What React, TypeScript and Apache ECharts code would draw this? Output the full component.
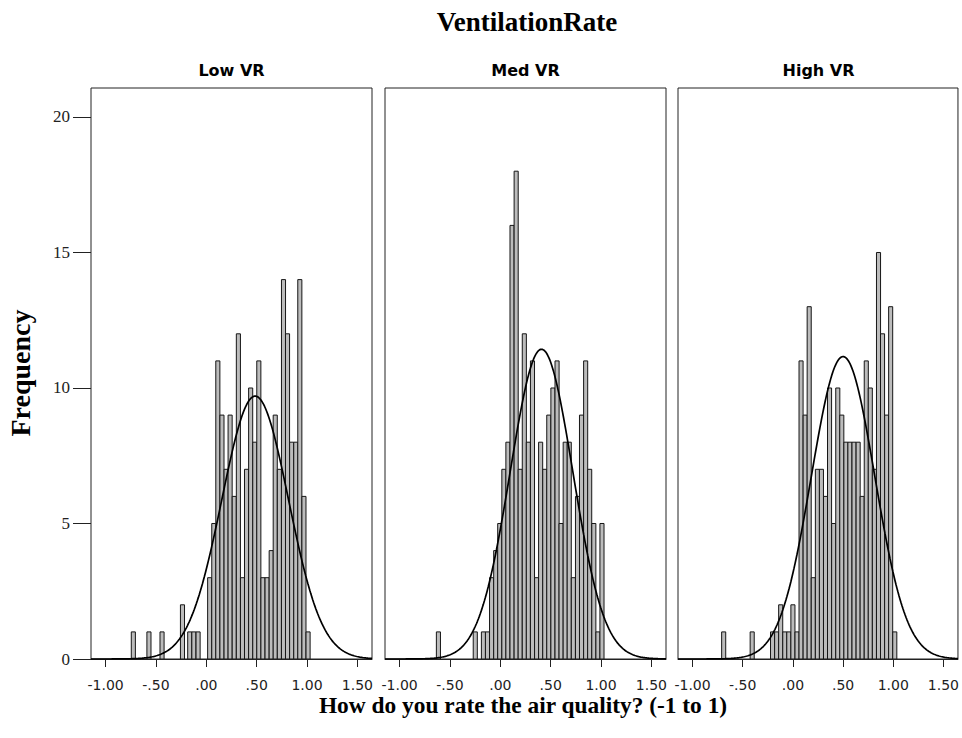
import React, { useEffect, useRef } from "react";
import * as echarts from "echarts";

// ---- data ----
const panelNames = ["Low VR", "Med VR", "High VR"];
const binWidth = 0.0406;

// bin left edges (data units) and frequencies
const lowX = [-0.745, -0.59, -0.46, -0.257, -0.185, -0.144, -0.102,
  0.013, 0.054, 0.094, 0.135, 0.176, 0.216, 0.257, 0.298, 0.339, 0.379, 0.42, 0.461, 0.501,
  0.542, 0.583, 0.624, 0.664, 0.705, 0.746, 0.786, 0.827, 0.868, 0.908, 0.949, 0.99];
const lowCount = [1, 1, 1, 2, 1, 1, 1,
  3, 5, 11, 9, 7, 9, 6, 12, 3, 7, 10, 8, 11, 3, 3, 4, 9, 7, 14, 12, 8, 8, 14, 6, 1];

const medX = [-0.635, -0.269, -0.188, -0.148,
  -0.107, -0.066, -0.026, 0.015, 0.055, 0.096, 0.137, 0.177, 0.218, 0.258, 0.299, 0.34, 0.38, 0.421,
  0.461, 0.502, 0.543, 0.583, 0.624, 0.664, 0.705, 0.746, 0.786, 0.827, 0.867, 0.908, 0.949, 0.989];
const medCount = [1, 1, 1, 1,
  3, 4, 5, 7, 8, 16, 18, 7, 12, 8, 11, 3, 8, 7, 9, 10, 11, 5, 8, 8, 3, 6, 9, 11, 7, 5, 1, 5];

const highX = [-0.71, -0.426,
  -0.223, -0.182, -0.142, -0.101, -0.061, -0.02, 0.021, 0.061, 0.102, 0.142, 0.183, 0.224, 0.264,
  0.305, 0.345, 0.386, 0.427, 0.467, 0.508, 0.548, 0.589, 0.63, 0.67, 0.711, 0.751, 0.792, 0.833,
  0.873, 0.914, 0.954, 0.995];
const highCount = [1, 1,
  1, 1, 2, 1, 1, 2, 1, 11, 9, 13, 3, 7, 7, 6, 10, 5, 10, 9, 8, 8, 8, 8, 6, 11, 10, 7, 15, 12, 9, 13, 1];

// fitted normal curves (mean, sd, peak frequency)
const curveMean = [0.485, 0.409, 0.5];
const curveSd = [0.331, 0.31, 0.315];
const curvePeak = [9.7, 11.43, 11.16];

const xTicks = [-1, -0.5, 0, 0.5, 1, 1.5];
const yTicks = [0, 5, 10, 15, 20];

const panelX = [lowX, medX, highX];
const panelCount = [lowCount, medCount, highCount];

// ---- layout ----
const X_MIN = -1.145;
const X_MAX = 1.645;
const Y_MAX = 21.07;
const GRID_LEFT = [91, 385, 678];
const GRID_W = 281;
const GRID_TOP = 88;
const GRID_H = 571;

function fmtX(v: number) {
  const s = Math.abs(v).toFixed(2);
  const t = s.startsWith("0") ? s.slice(1) : s;
  return (v < 0 ? "-" : "") + t;
}

function normalCurve(i: number) {
  const pts: number[][] = [];
  const m = curveMean[i], sd = curveSd[i], pk = curvePeak[i];
  for (let k = 0; k <= 280; k++) {
    const x = X_MIN + ((X_MAX - X_MIN) * k) / 280;
    pts.push([x, pk * Math.exp(-((x - m) * (x - m)) / (2 * sd * sd))]);
  }
  return pts;
}

export default function App() {
  const ref = useRef<HTMLDivElement>(null);
  useEffect(() => {
    if (!ref.current) return;
    const chart = echarts.init(ref.current, null, { renderer: "svg" });

    const grids = GRID_LEFT.map((l) => ({
      left: l,
      top: GRID_TOP,
      width: GRID_W,
      height: GRID_H,
      show: true,
      borderColor: "#222",
      borderWidth: 1,
      backgroundColor: "#fff",
      containLabel: false,
    }));

    const xAxes = GRID_LEFT.map((_, i) => ({
      type: "value",
      gridIndex: i,
      min: X_MIN,
      max: X_MAX,
      axisLine: { show: true, onZero: false, lineStyle: { color: "#222", width: 1 } },
      axisTick: { show: true, customValues: xTicks, length: 8, lineStyle: { color: "#222", width: 1 } },
      axisLabel: {
        show: true,
        customValues: xTicks,
        formatter: (v: number) => fmtX(v),
        margin: 19,
        fontFamily: "DejaVu Sans",
        fontSize: 14,
        color: "#222",
      },
      splitLine: { show: false },
    }));

    const yAxes = GRID_LEFT.map((_, i) => ({
      type: "value",
      gridIndex: i,
      position: "left",
      min: 0,
      max: Y_MAX,
      axisLine: { show: false, onZero: false },
      axisTick: { show: i === 0, customValues: yTicks, length: 18, lineStyle: { color: "#222", width: 1 } },
      axisLabel: {
        show: i === 0,
        customValues: yTicks,
        margin: 21,
        fontFamily: "Liberation Serif",
        fontSize: 17,
        color: "#222",
      },
      splitLine: { show: false },
    }));

    const series: any[] = [];
    panelX.forEach((xs, i) => {
      series.push({
        type: "custom",
        xAxisIndex: i,
        yAxisIndex: i,
        clip: true,
        z: 2,
        data: xs.map((x, j) => [x, panelCount[i][j]]),
        renderItem: (_p: any, api: any) => {
          const x0 = api.value(0);
          const h = api.value(1);
          const a = api.coord([x0, 0]);
          const b = api.coord([x0 + binWidth, h]);
          return {
            type: "rect",
            shape: { x: a[0], y: b[1], width: b[0] - a[0], height: a[1] - b[1] },
            style: { fill: "#bcbcbc", stroke: "#161616", lineWidth: 1 },
          };
        },
      });
      series.push({
        type: "line",
        xAxisIndex: i,
        yAxisIndex: i,
        data: normalCurve(i),
        symbol: "none",
        showSymbol: false,
        smooth: false,
        z: 3,
        lineStyle: { color: "#000", width: 1.7 },
      });
    });

    const panelLabels = GRID_LEFT.map((l, i) => ({
      type: "text",
      x: l + GRID_W / 2,
      y: 70,
      style: {
        text: panelNames[i],
        fontFamily: "DejaVu Sans",
        fontWeight: "bold",
        fontSize: 16,
        fill: "#000",
        textAlign: "center",
        textVerticalAlign: "middle",
      },
    }));

    chart.setOption({
      animation: false,
      backgroundColor: "#fff",
      grid: grids,
      xAxis: xAxes,
      yAxis: yAxes,
      series,
      graphic: [
        {
          type: "text",
          x: 527,
          y: 22,
          style: {
            text: "VentilationRate",
            fontFamily: "Liberation Serif",
            fontWeight: "bold",
            fontSize: 27,
            fill: "#000",
            textAlign: "center",
            textVerticalAlign: "middle",
          },
        },
        ...panelLabels,
        {
          type: "text",
          x: 20,
          y: 373,
          rotation: Math.PI / 2,
          style: {
            text: "Frequency",
            fontFamily: "Liberation Serif",
            fontWeight: "bold",
            fontSize: 28,
            fill: "#000",
            textAlign: "center",
            textVerticalAlign: "middle",
          },
        },
        {
          type: "text",
          x: 523,
          y: 705,
          style: {
            text: "How do you rate the air quality? (-1 to 1)",
            fontFamily: "Liberation Serif",
            fontWeight: "bold",
            fontSize: 23.4,
            fill: "#000",
            textAlign: "center",
            textVerticalAlign: "middle",
          },
        },
      ],
    });
    return () => chart.dispose();
  }, []);

  return (
    <div
      ref={ref}
      style={{ position: "fixed", left: 0, top: 0, width: 962, height: 738, background: "#fff" }}
    />
  );
}
